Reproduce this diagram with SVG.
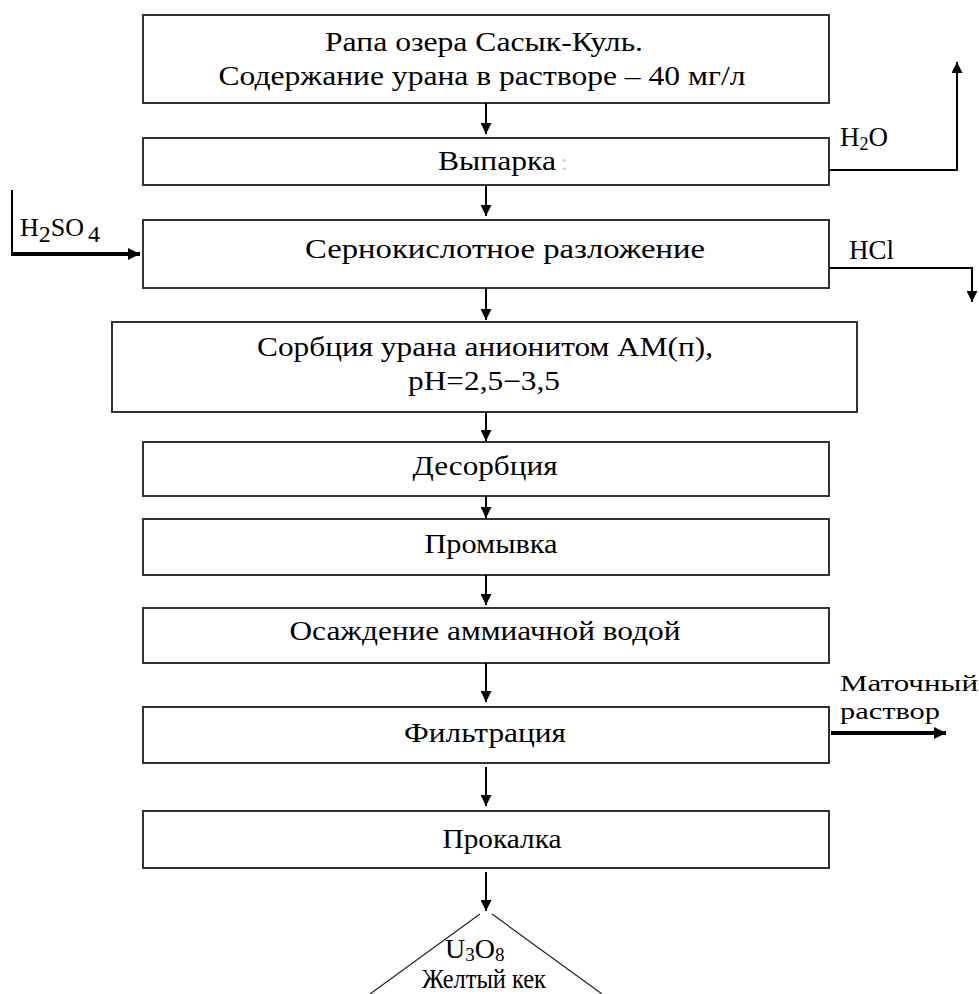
<svg xmlns="http://www.w3.org/2000/svg" width="979" height="994" viewBox="0 0 979 994">
<style>
.box{fill:#fff;stroke:#333;stroke-width:2}
.t{font-family:"Liberation Serif","Times New Roman",serif;font-size:27px;fill:#000;text-anchor:middle}
.l{font-family:"Liberation Serif","Times New Roman",serif;fill:#000}
.c{stroke:#000;stroke-width:2;fill:none}
.ct{stroke:#000;stroke-width:4;fill:none}
</style>
<defs>
<marker id="ah" viewBox="0 0 10 10" refX="10" refY="5" markerWidth="13" markerHeight="11" markerUnits="userSpaceOnUse" orient="auto"><path d="M0,0 L10,5 L0,10 Z" fill="#000"/></marker>
<marker id="ah2" viewBox="0 0 10 10" refX="10" refY="5" markerWidth="14" markerHeight="12" markerUnits="userSpaceOnUse" orient="auto"><path d="M0,0 L10,5 L0,10 Z" fill="#000"/></marker>
</defs>
<rect width="979" height="994" fill="#fff"/>
<g id="n1"><rect class="box" x="143" y="15" width="686" height="88"/>
<text class="t" x="484" y="51" textLength="318" lengthAdjust="spacingAndGlyphs">Рапа озера Сасык-Куль.</text>
<text class="t" x="482" y="85" textLength="527" lengthAdjust="spacingAndGlyphs">Содержание урана в растворе – 40 мг/л</text></g>
<g id="n2"><rect class="box" x="143" y="138" width="686" height="47"/>
<text class="t" x="497" y="170" textLength="118" lengthAdjust="spacingAndGlyphs">Выпарка</text><text class="l" x="561" y="170" style="fill:#ccc;font-size:24px">:</text></g>
<g id="n3"><rect class="box" x="143" y="220" width="686" height="68"/>
<text class="t" x="505" y="258" textLength="400" lengthAdjust="spacingAndGlyphs">Сернокислотное разложение</text></g>
<g id="n4"><rect class="box" x="112" y="322" width="745" height="90"/>
<text class="t" x="485" y="356" textLength="456" lengthAdjust="spacingAndGlyphs">Сорбция урана анионитом АМ(п),</text>
<text class="t" x="484" y="390" textLength="152" lengthAdjust="spacingAndGlyphs">pH=2,5−3,5</text></g>
<g id="n5"><rect class="box" x="143" y="442" width="686" height="54"/>
<text class="t" x="485" y="475" textLength="145" lengthAdjust="spacingAndGlyphs">Десорбция</text></g>
<g id="n6"><rect class="box" x="143" y="519" width="686" height="56"/>
<text class="t" x="491" y="553" textLength="133" lengthAdjust="spacingAndGlyphs">Промывка</text></g>
<g id="n7"><rect class="box" x="143" y="608" width="686" height="55"/>
<text class="t" x="485" y="640" textLength="391" lengthAdjust="spacingAndGlyphs">Осаждение аммиачной водой</text></g>
<g id="n8"><rect class="box" x="143" y="707" width="686" height="56"/>
<text class="t" x="485" y="742" textLength="162" lengthAdjust="spacingAndGlyphs">Фильтрация</text></g>
<g id="n9"><rect class="box" x="143" y="811" width="686" height="57"/>
<text class="t" x="502" y="848" textLength="119" lengthAdjust="spacingAndGlyphs">Прокалка</text></g>
<g id="n10"><path d="M480,914 L370,994 M492,914 L602,994" stroke="#222" stroke-width="1.2" fill="none"/>
<text class="l" x="445" y="958" style="font-size:28px">U<tspan style="font-size:19px" dy="3">3</tspan><tspan dy="-3">O</tspan><tspan style="font-size:19px" dy="3">8</tspan></text>
<text class="t" x="484" y="988" textLength="124" lengthAdjust="spacingAndGlyphs">Желтый кек</text></g>
<g id="labels">
<text class="l" x="840" y="146" style="font-size:27px">H<tspan style="font-size:18px" dy="4">2</tspan><tspan dy="-4">O</tspan></text>
<text class="l" x="849" y="259" style="font-size:27px">HCl</text>
<text class="l" x="20" y="236" style="font-size:26px">H<tspan style="font-size:24px" dy="6">2</tspan><tspan dy="-6">SO</tspan><tspan style="font-size:24px" dx="4" dy="6">4</tspan></text>
<text class="l" x="840" y="691" style="font-size:24px" textLength="138" lengthAdjust="spacingAndGlyphs">Маточный</text>
<text class="l" x="840" y="719" style="font-size:24px" textLength="100" lengthAdjust="spacingAndGlyphs">раствор</text>
</g>
<g id="connectors">
<line class="c" x1="486" y1="103" x2="486" y2="134" marker-end="url(#ah)"/>
<line class="c" x1="486" y1="185" x2="486" y2="216" marker-end="url(#ah)"/>
<line class="c" x1="486" y1="288" x2="486" y2="320" marker-end="url(#ah)"/>
<line class="c" x1="486" y1="412" x2="486" y2="441" marker-end="url(#ah)"/>
<line class="c" x1="486" y1="496" x2="486" y2="518" marker-end="url(#ah)"/>
<line class="c" x1="486" y1="575" x2="486" y2="605" marker-end="url(#ah)"/>
<line class="c" x1="486" y1="663" x2="486" y2="702" marker-end="url(#ah)"/>
<line class="c" x1="486" y1="767" x2="486" y2="806" marker-end="url(#ah)"/>
<line class="c" x1="486" y1="872" x2="486" y2="911" marker-end="url(#ah)"/>
<polyline class="c" points="829,170 957,170 957,62" marker-end="url(#ah)"/>
<polyline class="c" points="829,268 972,268 972,302" marker-end="url(#ah)"/>
<polyline points="12,190 12,255 140,255" fill="none" stroke="#000" stroke-width="2"/>
<line class="ct" x1="12" y1="254" x2="140" y2="254" marker-end="url(#ah2)"/>
<line class="ct" x1="831" y1="733" x2="946" y2="733" marker-end="url(#ah2)"/>
</g>
</svg>
